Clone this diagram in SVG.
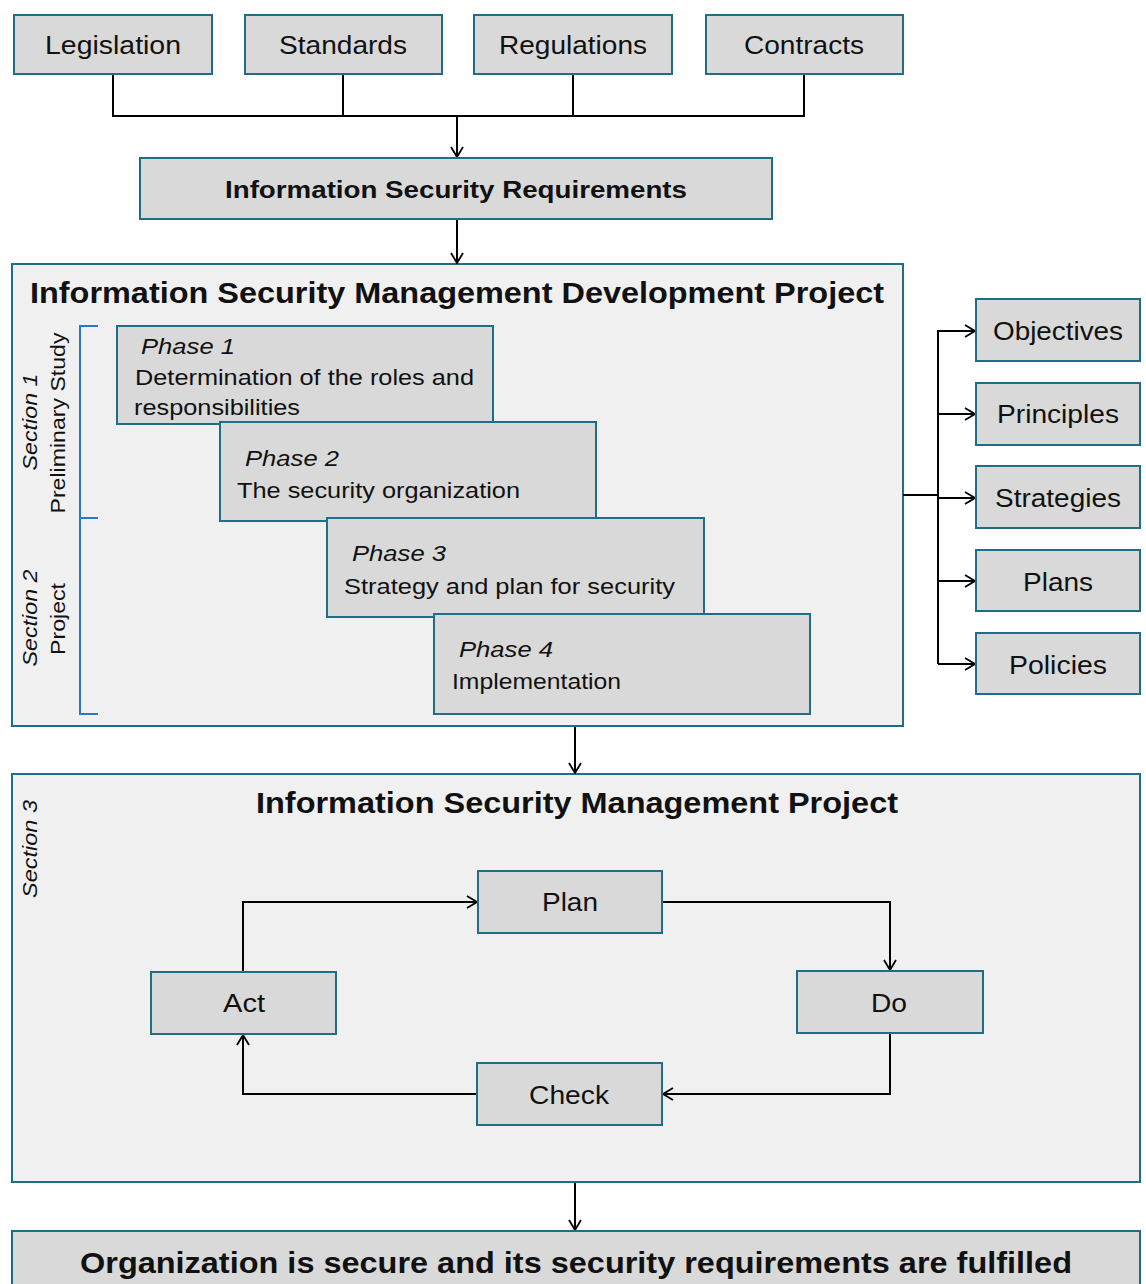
<svg xmlns="http://www.w3.org/2000/svg" width="1146" height="1284" viewBox="0 0 1146 1284">
<defs>
<marker id="arr" viewBox="0 0 12 14" refX="11" refY="7" markerWidth="12" markerHeight="14" markerUnits="userSpaceOnUse" orient="auto">
<path d="M1,1 L11,7 L1,13" fill="none" stroke="#000" stroke-width="1.8"/>
</marker>
<style>
.box{fill:#d9d9d9;stroke:#1f6e86;stroke-width:2}
.cont{fill:#f0f0f0;stroke:#1f6e86;stroke-width:2}
.t{font-family:"Liberation Sans",Arial,sans-serif;fill:#111}
.lbl{font-size:25px;text-anchor:middle}
.ph{font-size:22px}
.it{font-style:italic}
.b{font-weight:bold}
.sec{font-size:21px;text-anchor:middle}
.ln{fill:none;stroke:#000;stroke-width:2}
.br{fill:none;stroke:#2a78c8;stroke-width:2}
</style>
</defs>
<rect width="1146" height="1284" fill="#fff"/>

<g id="containers">
<rect id="ismdp" class="cont" x="12" y="264" width="891" height="462"/>
<rect id="ismp" class="cont" x="12" y="774" width="1128" height="408"/>
</g>

<g id="connectors">
<path class="ln" d="M113,74 V116 M343,74 V116 M573,74 V116 M804,74 V116 M112,116 H805"/>
<path class="ln" d="M457,116 V157" marker-end="url(#arr)"/>
<path class="ln" d="M457,219 V263" marker-end="url(#arr)"/>
<path class="ln" d="M903,495 H938 M938,330 V664"/>
<path class="ln" d="M938,331 H975" marker-end="url(#arr)"/>
<path class="ln" d="M938,414 H975" marker-end="url(#arr)"/>
<path class="ln" d="M938,498 H975" marker-end="url(#arr)"/>
<path class="ln" d="M938,581 H975" marker-end="url(#arr)"/>
<path class="ln" d="M938,664 H975" marker-end="url(#arr)"/>
<path class="ln" d="M575,727 V773" marker-end="url(#arr)"/>
<path class="ln" d="M243,972 V902 H477" marker-end="url(#arr)"/>
<path class="ln" d="M662,902 H890 V970" marker-end="url(#arr)"/>
<path class="ln" d="M890,1033 V1094 H663" marker-end="url(#arr)"/>
<path class="ln" d="M477,1094 H243 V1035" marker-end="url(#arr)"/>
<path class="ln" d="M575,1183 V1230" marker-end="url(#arr)"/>
<path class="br" d="M98,326 H80 V518 H98 M80,518 V714 H98"/>
</g>

<g id="legislation"><rect class="box" x="14" y="15" width="198" height="59"/><text class="t lbl" x="113" y="54" textLength="136" lengthAdjust="spacingAndGlyphs">Legislation</text></g>
<g id="standards"><rect class="box" x="245" y="15" width="197" height="59"/><text class="t lbl" x="343" y="54" textLength="128" lengthAdjust="spacingAndGlyphs">Standards</text></g>
<g id="regulations"><rect class="box" x="474" y="15" width="198" height="59"/><text class="t lbl" x="573" y="54" textLength="148" lengthAdjust="spacingAndGlyphs">Regulations</text></g>
<g id="contracts"><rect class="box" x="706" y="15" width="197" height="59"/><text class="t lbl" x="804" y="54" textLength="120" lengthAdjust="spacingAndGlyphs">Contracts</text></g>

<g id="isr"><rect class="box" x="140" y="158" width="632" height="61"/><text class="t b" x="456" y="198" font-size="23" text-anchor="middle" textLength="462" lengthAdjust="spacingAndGlyphs">Information  Security Requirements</text></g>

<g id="ismdp-title"><text class="t b" x="457" y="303" font-size="29" text-anchor="middle" textLength="854" lengthAdjust="spacingAndGlyphs">Information Security  Management Development Project</text></g>

<g id="section-labels">
<text class="t sec it" transform="translate(37,422) rotate(-90)" textLength="97" lengthAdjust="spacingAndGlyphs">Section 1</text>
<text class="t sec" transform="translate(65,423) rotate(-90)" textLength="181" lengthAdjust="spacingAndGlyphs">Preliminary Study</text>
<text class="t sec it" transform="translate(37,618) rotate(-90)" textLength="97" lengthAdjust="spacingAndGlyphs">Section 2</text>
<text class="t sec" transform="translate(65,619) rotate(-90)" textLength="72" lengthAdjust="spacingAndGlyphs">Project</text>
<text class="t sec it" transform="translate(37,849) rotate(-90)" textLength="98" lengthAdjust="spacingAndGlyphs">Section 3</text>
</g>

<g id="phase1"><rect class="box" x="117" y="326" width="376" height="98"/>
<text class="t ph it" x="141" y="354" textLength="94" lengthAdjust="spacingAndGlyphs">Phase 1</text>
<text class="t ph" x="135" y="385" textLength="339" lengthAdjust="spacingAndGlyphs">Determination of the roles and</text>
<text class="t ph" x="134" y="415" textLength="166" lengthAdjust="spacingAndGlyphs">responsibilities</text></g>
<g id="phase2"><rect class="box" x="220" y="422" width="376" height="99"/>
<text class="t ph it" x="245" y="466" textLength="94" lengthAdjust="spacingAndGlyphs">Phase 2</text>
<text class="t ph" x="237" y="498" textLength="283" lengthAdjust="spacingAndGlyphs">The security organization</text></g>
<g id="phase3"><rect class="box" x="327" y="518" width="377" height="99"/>
<text class="t ph it" x="352" y="561" textLength="94" lengthAdjust="spacingAndGlyphs">Phase 3</text>
<text class="t ph" x="344" y="594" textLength="331" lengthAdjust="spacingAndGlyphs">Strategy and plan for security</text></g>
<g id="phase4"><rect class="box" x="434" y="614" width="376" height="100"/>
<text class="t ph it" x="459" y="657" textLength="94" lengthAdjust="spacingAndGlyphs">Phase 4</text>
<text class="t ph" x="452" y="689" textLength="169" lengthAdjust="spacingAndGlyphs">Implementation</text></g>

<g id="objectives"><rect class="box" x="976" y="299" width="164" height="62"/><text class="t lbl" x="1058" y="340" textLength="130" lengthAdjust="spacingAndGlyphs">Objectives</text></g>
<g id="principles"><rect class="box" x="976" y="383" width="164" height="62"/><text class="t lbl" x="1058" y="423" textLength="122" lengthAdjust="spacingAndGlyphs">Principles</text></g>
<g id="strategies"><rect class="box" x="976" y="466" width="164" height="62"/><text class="t lbl" x="1058" y="507" textLength="126" lengthAdjust="spacingAndGlyphs">Strategies</text></g>
<g id="plans"><rect class="box" x="976" y="550" width="164" height="61"/><text class="t lbl" x="1058" y="591" textLength="70" lengthAdjust="spacingAndGlyphs">Plans</text></g>
<g id="policies"><rect class="box" x="976" y="633" width="164" height="61"/><text class="t lbl" x="1058" y="674" textLength="98" lengthAdjust="spacingAndGlyphs">Policies</text></g>

<g id="ismp-title"><text class="t b" x="577" y="813" font-size="29" text-anchor="middle" textLength="642" lengthAdjust="spacingAndGlyphs">Information Security Management Project</text></g>

<g id="plan"><rect class="box" x="478" y="871" width="184" height="62"/><text class="t lbl" x="570" y="911" textLength="56" lengthAdjust="spacingAndGlyphs">Plan</text></g>
<g id="act"><rect class="box" x="151" y="972" width="185" height="62"/><text class="t lbl" x="244" y="1012" textLength="42" lengthAdjust="spacingAndGlyphs">Act</text></g>
<g id="do"><rect class="box" x="797" y="971" width="186" height="62"/><text class="t lbl" x="889" y="1012" textLength="36" lengthAdjust="spacingAndGlyphs">Do</text></g>
<g id="check"><rect class="box" x="477" y="1063" width="185" height="62"/><text class="t lbl" x="569" y="1104" textLength="80" lengthAdjust="spacingAndGlyphs">Check</text></g>

<g id="result"><rect class="box" x="12" y="1231" width="1128" height="60"/><text class="t b" x="576" y="1273" font-size="30" text-anchor="middle" textLength="992" lengthAdjust="spacingAndGlyphs">Organization is secure and its security requirements are fulfilled</text></g>
</svg>
